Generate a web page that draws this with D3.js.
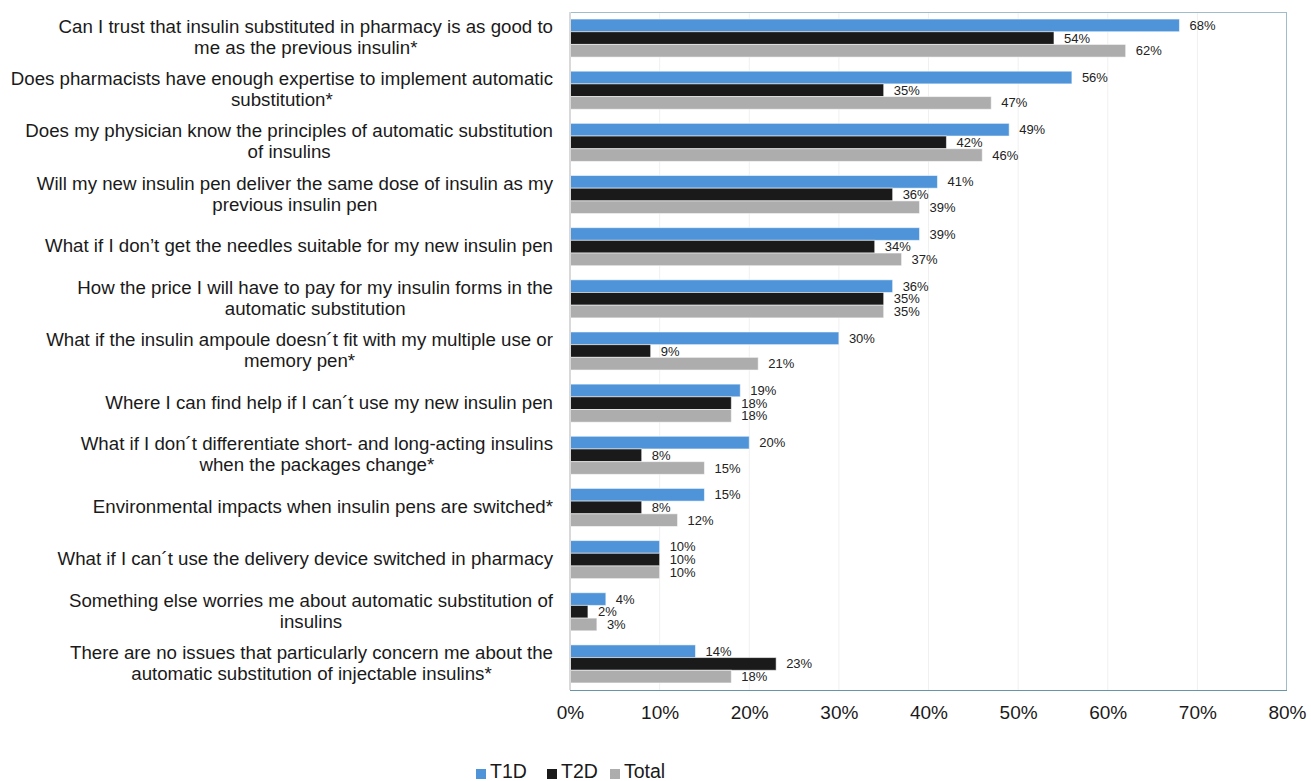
<!DOCTYPE html>
<html>
<head>
<meta charset="utf-8">
<script src="https://cdn.jsdelivr.net/npm/d3@7"></script>
<style>
  body { margin: 0; background: #fff; }
  svg { display: block; font-family: "Liberation Sans", Arial, sans-serif; }
</style>
</head>
<body>
<div id="chart"></div>
<script>
// Worries about automatic substitution of insulins, by diabetes type

// Category labels, already wrapped the way the original shows them
const categories = [
    ["Can I trust that insulin substituted in pharmacy is as good to", "me as the previous insulin*"],
    ["Does pharmacists have enough expertise to implement automatic", "substitution*"],
    ["Does my physician know the principles of automatic substitution", "of insulins"],
    ["Will my new insulin pen deliver the same dose of insulin as my", "previous insulin pen"],
    ["What if I don\u2019t get the needles suitable for my new insulin pen"],
    ["How the price I will have to pay for my insulin forms in the", "automatic substitution"],
    ["What if the insulin ampoule doesn\u00b4t fit with my multiple use or", "memory pen*"],
    ["Where I can find help if I can\u00b4t use my new insulin pen"],
    ["What if I don\u00b4t differentiate short- and long-acting insulins", "when the packages change*"],
    ["Environmental impacts when insulin pens are switched*"],
    ["What if I can\u00b4t use the delivery device switched in pharmacy"],
    ["Something else worries me about automatic substitution of", "insulins"],
    ["There are no issues that particularly concern me about the", "automatic substitution of injectable insulins*"]
];

const seriesNames = ["T1D", "T2D", "Total"];
const t1dValues   = [68, 56, 49, 41, 39, 36, 30, 19, 20, 15, 10, 4, 14];
const t2dValues   = [54, 35, 42, 36, 34, 35, 9, 18, 8, 8, 10, 2, 23];
const totalValues = [62, 47, 46, 39, 37, 35, 21, 18, 15, 12, 10, 3, 18];
const xTicks = [0, 10, 20, 30, 40, 50, 60, 70, 80];

const colors = { "T1D": "#4f94d8", "T2D": "#1a1a1a", "Total": "#adadad" };

// Build rows for binding
const rows = categories.map((lines, i) => ({
    id: i,
    lines: lines,
    values: [
        { key: "T1D", value: t1dValues[i] },
        { key: "T2D", value: t2dValues[i] },
        { key: "Total", value: totalValues[i] }
    ]
}));

// Dimensions
const width = 1311, height = 781;
const margin = { top: 12, right: 24, bottom: 91, left: 570 };
const plotW = width - margin.left - margin.right;
const plotH = height - margin.top - margin.bottom;

const svg = d3.select("#chart").append("svg")
    .attr("width", width)
    .attr("height", height);

const g = svg.append("g")
    .attr("transform", `translate(${margin.left},${margin.top})`);

// Scales
const x = d3.scaleLinear().domain([0, 80]).range([0, plotW]);
const y = d3.scaleBand()
    .domain(rows.map(d => d.id))
    .range([0, plotH])
    .paddingInner(0.27)
    .paddingOuter(0.135);
const ySub = d3.scaleBand().domain(seriesNames).range([0, y.bandwidth()]);

// Faint vertical gridlines
g.append("g")
    .selectAll("line")
    .data(xTicks.slice(1, -1))
    .enter().append("line")
    .attr("x1", d => x(d)).attr("x2", d => x(d))
    .attr("y1", 0).attr("y2", plotH)
    .attr("stroke", "#f0f0f0")
    .attr("stroke-width", 1);

// Plot area border
g.append("rect")
    .attr("x", 0.5).attr("y", 0.5)
    .attr("width", plotW - 1).attr("height", plotH)
    .attr("fill", "none")
    .attr("stroke", "#9fbccb")
    .attr("stroke-width", 1);
g.append("line")
    .attr("x1", 0).attr("x2", plotW)
    .attr("y1", plotH + 0.5).attr("y2", plotH + 0.5)
    .attr("stroke", "#6a95a6");

// Bars
const groups = g.selectAll(".row")
    .data(rows)
    .enter().append("g")
    .attr("class", "row")
    .attr("transform", d => `translate(0,${y(d.id)})`);

groups.selectAll("rect")
    .data(d => d.values)
    .enter().append("rect")
    .attr("x", 0)
    .attr("y", d => ySub(d.key))
    .attr("width", d => x(d.value))
    .attr("height", ySub.bandwidth())
    .attr("fill", d => colors[d.key])
    .attr("stroke", "#ffffff")
    .attr("stroke-opacity", 0.55)
    .attr("stroke-width", 1);

// Value labels
groups.selectAll(".val")
    .data(d => d.values)
    .enter().append("text")
    .attr("class", "val")
    .attr("x", d => x(d.value) + 10)
    .attr("y", d => ySub(d.key) + ySub.bandwidth() / 2)
    .attr("dy", "0.35em")
    .attr("font-size", 13)
    .attr("fill", "#222")
    .text(d => d.value + "%");

// Left axis line
g.append("line")
    .attr("x1", 0).attr("x2", 0)
    .attr("y1", 0).attr("y2", plotH)
    .attr("stroke", "#d9d9d9")
    .attr("stroke-width", 2);

// X axis tick labels
const xAxis = d3.axisBottom(x)
    .tickValues(xTicks)
    .tickFormat(d => d + "%")
    .tickSize(0)
    .tickPadding(16);
const xg = g.append("g")
    .attr("transform", `translate(0,${plotH})`)
    .call(xAxis);
xg.select(".domain").remove();
xg.selectAll("text")
    .attr("font-family", "Liberation Sans, Arial, sans-serif")
    .attr("font-size", 19)
    .attr("fill", "#1a1a1a");

// Category labels: block right-aligned, lines centred within block
const labelRight = 553;
const lineH = 21;
const labels = svg.append("g").attr("class", "cat-labels");
rows.forEach(d => {
    const t = labels.append("text")
        .attr("font-size", 18.7)
        .attr("fill", "#1a1a1a")
        .attr("text-anchor", "middle");
    const cy = margin.top + y(d.id) + y.bandwidth() / 2;
    const n = d.lines.length;
    d.lines.forEach((line, j) => {
        t.append("tspan")
            .attr("y", cy + (j - (n - 1) / 2) * lineH - 1)
            .attr("dy", "0.35em")
            .text(line);
    });
    // measure widest line, then centre all lines on it
    let maxW = 0;
    t.selectAll("tspan").each(function () {
        maxW = Math.max(maxW, this.getComputedTextLength());
    });
    t.selectAll("tspan").attr("x", labelRight - maxW / 2);
});

// Legend
const legendX = [476, 547, 610];
const legend = svg.append("g").attr("transform", "translate(0,768)");
seriesNames.forEach((name, i) => {
    legend.append("rect")
        .attr("x", legendX[i]).attr("y", 1)
        .attr("width", 10).attr("height", 10)
        .attr("fill", colors[name]);
    legend.append("text")
        .attr("x", legendX[i] + 14).attr("y", 10)
        .attr("font-size", 19.5)
        .attr("fill", "#1a1a1a")
        .text(name);
});
</script>
</body>
</html>
